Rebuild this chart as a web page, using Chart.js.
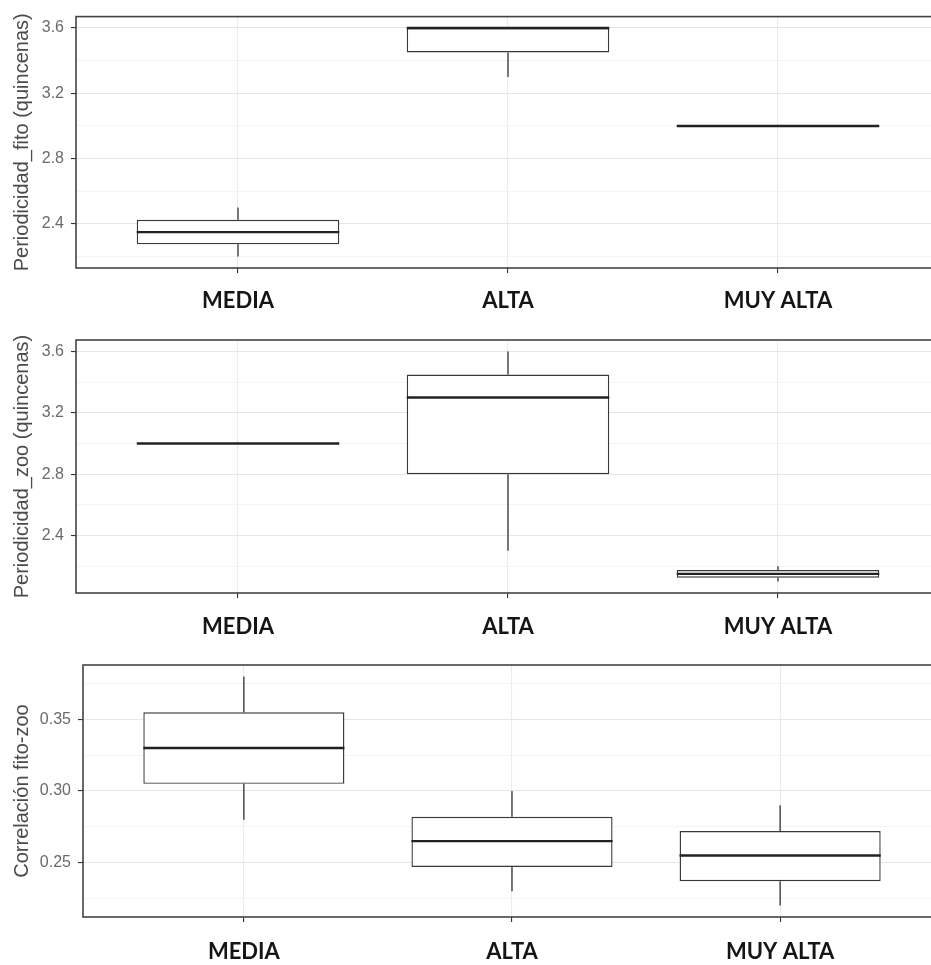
<!DOCTYPE html>
<html>
<head>
<meta charset="utf-8">
<script src="https://cdn.jsdelivr.net/npm/chart.js@4.4.1/dist/chart.umd.min.js"></script>
<style>
  html, body { margin: 0; padding: 0; background: #fff; overflow: hidden; width: 931px; height: 965px; }
  canvas { position: absolute; left: 0; }
</style>
</head>
<body>
<canvas id="c1" width="940" height="320" style="top:0px"></canvas>
<canvas id="c2" width="940" height="325" style="top:320px"></canvas>
<canvas id="c3" width="941" height="320" style="top:645px"></canvas>
<script>
// ---------- data ----------
const categories = ['MEDIA', 'ALTA', 'MUY ALTA'];

// Periodicidad_fito: [min, q1, median, q3, max]
const fitoMin = [2.2, 3.3, 3.0];
const fitoQ1  = [2.275, 3.45, 3.0];
const fitoMed = [2.35, 3.6, 3.0];
const fitoQ3  = [2.425, 3.6, 3.0];
const fitoMax = [2.5, 3.6, 3.0];

// Periodicidad_zoo
const zooMin = [3.0, 2.3, 2.1];
const zooQ1  = [3.0, 2.8, 2.125];
const zooMed = [3.0, 3.3, 2.15];
const zooQ3  = [3.0, 3.45, 2.175];
const zooMax = [3.0, 3.6, 2.2];

// Correlación fito-zoo
const corMin = [0.28, 0.23, 0.22];
const corQ1  = [0.305, 0.247, 0.237];
const corMed = [0.33, 0.265, 0.255];
const corQ3  = [0.355, 0.282, 0.272];
const corMax = [0.38, 0.30, 0.29];

// tick values / labels
const perMajor = [2.4, 2.8, 3.2, 3.6];
const perMajorLabels = ['2.4', '2.8', '3.2', '3.6'];
const perMinor = [2.2, 2.6, 3.0, 3.4];
const corMajor = [0.25, 0.30, 0.35];
const corMajorLabels = ['0.25', '0.30', '0.35'];
const corMinor = [0.225, 0.275, 0.325, 0.375];

// ---------- helpers ----------
const near = (a, b) => Math.abs(a - b) < 1e-6;
function idxOf(arr, v) { for (let i = 0; i < arr.length; i++) if (near(arr[i], v)) return i; return -1; }

const boxPlugin = {
  id: 'boxExtras',
  afterDatasetsDraw(chart) {
    const o = chart.options.plugins.boxExtras;
    const meta = chart.getDatasetMeta(0);
    const ys = chart.scales.y;
    const ctx = chart.ctx;
    ctx.save();
    meta.data.forEach((bar, i) => {
      const x = bar.x, w = bar.width;
      const yMin = ys.getPixelForValue(o.min[i]);
      const yMax = ys.getPixelForValue(o.max[i]);
      const yQ1 = ys.getPixelForValue(o.q1[i]);
      const yQ3 = ys.getPixelForValue(o.q3[i]);
      const yMed = ys.getPixelForValue(o.med[i]);
      ctx.strokeStyle = '#333333';
      ctx.lineWidth = 1.3;
      ctx.beginPath();
      ctx.moveTo(x, yQ3); ctx.lineTo(x, yMax);
      ctx.moveTo(x, yQ1); ctx.lineTo(x, yMin);
      ctx.stroke();
      ctx.strokeStyle = '#222222';
      ctx.lineWidth = 2.4;
      ctx.beginPath();
      ctx.moveTo(x - w / 2, yMed); ctx.lineTo(x + w / 2, yMed);
      ctx.stroke();
    });
    ctx.restore();
  },
  afterDraw(chart) {
    const a = chart.chartArea;
    const ctx = chart.ctx;
    ctx.save();
    ctx.strokeStyle = '#444444';
    ctx.lineWidth = 1.6;
    ctx.strokeRect(a.left, a.top, a.right - a.left, a.bottom - a.top);
    ctx.restore();
  }
};

function makeChart(id, opts) {
  const data = categories.map((c, i) => ({ x: i + 1, y: [opts.q1[i], opts.q3[i]] }));
  return new Chart(document.getElementById(id), {
    type: 'bar',
    data: {
      datasets: [{
        data: data,
        backgroundColor: '#ffffff',
        borderColor: '#383838',
        borderWidth: 1.4,
        borderSkipped: false,
        barPercentage: 0.75,
        categoryPercentage: 1.0
      }]
    },
    plugins: [boxPlugin],
    options: {
      responsive: false,
      animation: false,
      devicePixelRatio: 1,
      layout: { padding: { top: opts.padTop, right: 0, bottom: 0, left: 0 } },
      plugins: {
        legend: { display: false },
        tooltip: { enabled: false },
        boxExtras: { min: opts.min, q1: opts.q1, med: opts.med, q3: opts.q3, max: opts.max }
      },
      scales: {
        x: {
          type: 'linear',
          min: 0.4,
          max: 3.6,
          offset: false,
          afterBuildTicks: (s) => { s.ticks = categories.map((c, i) => ({ value: i + 1 })); },
          afterFit: (s) => { s.height = opts.xHeight; },
          border: { display: false },
          grid: { offset: false, color: '#ebebeb', lineWidth: 1.1, tickColor: '#333333', tickLength: 5 },
          ticks: {
            autoSkip: false,
            maxRotation: 0,
            padding: opts.xPad,
            color: '#151515',
            font: { family: 'Lato, "Liberation Sans", Arial, sans-serif', size: 22, weight: 'bold' },
            callback: (v) => categories[Math.round(v) - 1]
          }
        },
        y: {
          type: 'linear',
          min: opts.yMin,
          max: opts.yMax,
          afterBuildTicks: (s) => {
            s.ticks = opts.major.concat(opts.minor).sort((a, b) => a - b).map(v => ({ value: v }));
          },
          afterFit: (s) => { s.width = opts.yWidth; },
          border: { display: false },
          grid: {
            color: (c) => (c.tick && idxOf(opts.major, c.tick.value) >= 0) ? '#e6e6e6' : '#efefef',
            lineWidth: (c) => (c.tick && idxOf(opts.major, c.tick.value) >= 0) ? 1.1 : 0.7,
            tickColor: (c) => (c.tick && idxOf(opts.major, c.tick.value) >= 0) ? '#333333' : 'rgba(0,0,0,0)',
            tickLength: 5
          },
          ticks: {
            padding: 7,
            color: '#6a6a6a',
            font: { family: '"Liberation Sans", Arial, sans-serif', size: 16 },
            callback: (v) => { const k = idxOf(opts.major, v); return k >= 0 ? opts.majorLabels[k] : ''; }
          },
          title: {
            display: true,
            text: opts.title,
            color: '#4a4a4a',
            padding: { top: 10, bottom: 0 },
            font: { family: '"Liberation Sans", Arial, sans-serif', size: 20 }
          }
        }
      }
    }
  });
}

makeChart('c1', {
  min: fitoMin, q1: fitoQ1, med: fitoMed, q3: fitoQ3, max: fitoMax,
  yMin: 2.13, yMax: 3.67, major: perMajor, majorLabels: perMajorLabels, minor: perMinor,
  title: 'Periodicidad_fito (quincenas)', padTop: 15, xHeight: 52, yWidth: 76, xPad: 15
});
makeChart('c2', {
  min: zooMin, q1: zooQ1, med: zooMed, q3: zooQ3, max: zooMax,
  yMin: 2.025, yMax: 3.675, major: perMajor, majorLabels: perMajorLabels, minor: perMinor,
  title: 'Periodicidad_zoo (quincenas)', padTop: 20, xHeight: 52, yWidth: 76, xPad: 16
});
makeChart('c3', {
  min: corMin, q1: corQ1, med: corMed, q3: corQ3, max: corMax,
  yMin: 0.212, yMax: 0.388, major: corMajor, majorLabels: corMajorLabels, minor: corMinor,
  title: 'Correlación fito-zoo', padTop: 20, xHeight: 48, yWidth: 83, xPad: 17
});
</script>
</body>
</html>
